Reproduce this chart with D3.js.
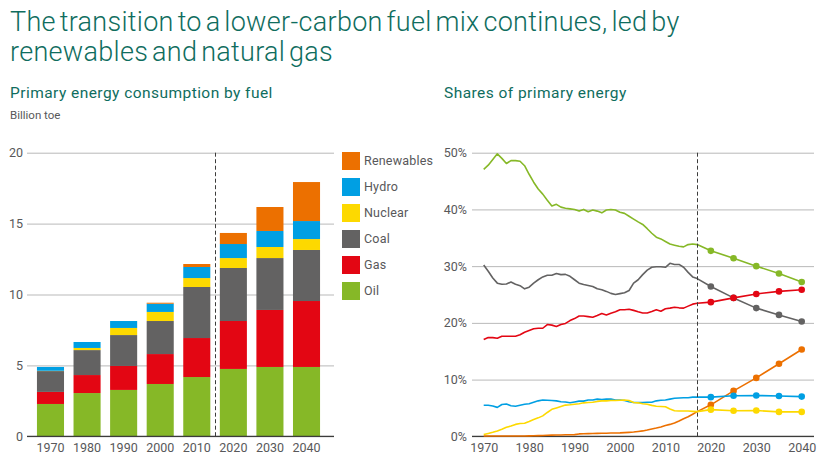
<!DOCTYPE html>
<html>
<head>
<meta charset="utf-8">
<script src="https://d3js.org/d3.v7.min.js"></script>
<style>
    body { margin: 0; background: #fff; }
    text { font-family: Roboto, "Liberation Sans", sans-serif; }
    .domain { display: none; }
</style>
</head>
<body>
<svg id="chart" width="823" height="476"></svg>
<script>
const titleLines = ["The transition to a lower-carbon fuel mix continues, led by", "renewables and natural gas"];

// left chart, billion toe
const decades = [1970, 1980, 1990, 2000, 2010, 2020, 2030, 2040];
const oil = [2.28, 3.05, 3.27, 3.69, 4.18, 4.75, 4.89, 4.89];
const gas = [0.85, 1.27, 1.69, 2.11, 2.75, 3.38, 4.02, 4.65];
const coal = [1.47, 1.76, 2.18, 2.33, 3.6, 3.74, 3.66, 3.6];
const nuclear = [0.02, 0.15, 0.5, 0.64, 0.63, 0.7, 0.78, 0.77];
const hydro = [0.27, 0.42, 0.49, 0.58, 0.78, 0.99, 1.13, 1.27];
const renewables = [0, 0, 0, 0.07, 0.21, 0.78, 1.69, 2.75];
const volumeTicks = [0, 5, 10, 15, 20];

// right chart, shares in %, one value per year 1970-2017
const oilShare = [47.07, 47.8, 48.8, 49.8, 49.0, 48.1, 48.6, 48.6, 48.5, 47.7, 46.2, 44.8, 43.6, 42.7, 41.6, 40.6, 40.9, 40.4, 40.2, 40.1, 40.0, 39.7, 40.0, 39.6, 39.9, 39.7, 39.4, 39.9, 40.0, 39.9, 39.5, 39.3, 38.8, 38.3, 37.8, 37.35, 36.6, 35.8, 35.1, 34.8, 34.35, 33.9, 33.7, 33.5, 33.4, 33.8, 33.9, 33.8];
const coalShare = [30.2, 29.1, 27.9, 27.0, 26.8, 26.85, 27.2, 26.8, 26.55, 26.0, 26.3, 27.0, 27.6, 28.1, 28.4, 28.4, 28.7, 28.5, 28.55, 28.2, 27.6, 27.0, 26.75, 26.6, 26.4, 26.0, 25.85, 25.55, 25.2, 25.0, 25.15, 25.3, 25.7, 27.0, 27.6, 28.5, 29.3, 29.8, 29.9, 29.9, 29.8, 30.5, 30.3, 30.3, 29.8, 28.9, 28.1, 27.8];
const gasShare = [17.05, 17.4, 17.4, 17.3, 17.65, 17.65, 17.65, 17.65, 17.9, 18.35, 18.65, 18.95, 19.05, 19.05, 19.7, 19.6, 19.35, 19.7, 19.9, 20.4, 20.75, 21.2, 21.2, 21.1, 21.0, 21.3, 21.65, 21.4, 21.7, 21.95, 22.3, 22.3, 22.4, 22.2, 21.95, 21.75, 21.75, 22.0, 22.3, 22.05, 22.5, 22.6, 22.75, 22.65, 22.6, 22.95, 23.3, 23.45];
const hydroShare = [5.47, 5.47, 5.35, 5.1, 5.6, 5.7, 5.4, 5.3, 5.47, 5.65, 5.75, 6.0, 6.25, 6.4, 6.35, 6.3, 6.25, 6.1, 6.05, 5.9, 6.05, 6.2, 6.2, 6.4, 6.4, 6.55, 6.5, 6.55, 6.55, 6.4, 6.4, 6.3, 6.1, 5.95, 5.95, 5.95, 6.0, 6.0, 6.25, 6.35, 6.4, 6.55, 6.7, 6.75, 6.8, 6.8, 6.9, 6.9];
const nuclearShare = [0.3, 0.5, 0.7, 0.95, 1.25, 1.6, 1.8, 2.1, 2.25, 2.3, 2.6, 2.95, 3.25, 3.6, 4.2, 4.75, 5.0, 5.25, 5.5, 5.55, 5.65, 5.75, 5.9, 5.95, 6.0, 6.15, 6.25, 6.25, 6.3, 6.3, 6.35, 6.4, 6.3, 5.95, 5.9, 5.75, 5.65, 5.45, 5.3, 5.25, 5.2, 4.8, 4.5, 4.45, 4.45, 4.45, 4.4, 4.35];
const renewablesShare = [0.05, 0.05, 0.05, 0.05, 0.05, 0.05, 0.05, 0.05, 0.05, 0.05, 0.08, 0.1, 0.12, 0.15, 0.18, 0.2, 0.22, 0.24, 0.26, 0.28, 0.3, 0.42, 0.45, 0.47, 0.5, 0.52, 0.53, 0.55, 0.57, 0.58, 0.6, 0.65, 0.7, 0.75, 0.85, 0.95, 1.1, 1.3, 1.45, 1.65, 1.9, 2.1, 2.35, 2.7, 3.1, 3.45, 3.9, 4.35];

// projections, one value per 5 years
const projectionYears = [2020, 2025, 2030, 2035, 2040];
const oilProjection = [32.7, 31.4, 30.0, 28.7, 27.2];
const coalProjection = [26.4, 24.4, 22.6, 21.4, 20.25];
const gasProjection = [23.65, 24.4, 25.1, 25.55, 25.85];
const hydroProjection = [6.9, 7.15, 7.2, 7.1, 7.0];
const nuclearProjection = [4.7, 4.5, 4.55, 4.3, 4.3];
const renewablesProjection = [5.55, 8.0, 10.3, 12.8, 15.3];
const shareTicks = [0, 10, 20, 30, 40, 50];
const yearTicks = [1970, 1980, 1990, 2000, 2010, 2020, 2030, 2040];
const forecastStart = 2017;

const stackNames = ["Oil", "Gas", "Coal", "Nuclear", "Hydro", "Renewables"];
const legendNames = ["Renewables", "Hydro", "Nuclear", "Coal", "Gas", "Oil"];
const fuelColors = ["#86b827", "#e30613", "#636262", "#fdd900", "#009fe3", "#ec7000"];

const green = "#0f6d5e";
const grey = "#58585a";
const grid = "#b9b9b9";

const svg = d3.select("#chart");
const color = d3.scaleOrdinal().domain(stackNames).range(fuelColors);

// headings
svg.selectAll(".title").data(titleLines).enter().append("text")
    .attr("class", "title")
    .attr("x", 10)
    .attr("y", (d, i) => 31 + i * 30)
    .attr("fill", green)
    .style("font-size", "27px")
    .style("font-weight", 300)
    .style("letter-spacing", "0.3px")
    .style("word-spacing", "-3px")
    .text(d => d);

const subtitle = (x, txt) => svg.append("text")
    .attr("x", x).attr("y", 98)
    .attr("fill", green)
    .style("font-size", "15.5px")
    .style("letter-spacing", "0.45px")
    .text(txt);
subtitle(10, "Primary energy consumption by fuel");
subtitle(444, "Shares of primary energy");

svg.append("text")
    .attr("x", 10).attr("y", 119)
    .attr("fill", grey)
    .style("font-size", "11.5px")
    .text("Billion toe");

// left chart: stacked bars
const yBar = d3.scaleLinear().domain([0, 20]).range([436.3, 152.7]);
const xBar = d3.scaleBand().domain(decades).range([32.2, 324.8]).paddingInner(0.26).paddingOuter(0.13);

const barAxis = svg.append("g").attr("transform", "translate(27,0)")
    .call(d3.axisLeft(yBar).tickValues(volumeTicks).tickSize(-307).tickPadding(4));
barAxis.selectAll("line").attr("stroke", grid).attr("stroke-width", 1);
barAxis.selectAll("text").attr("fill", grey).style("font-size", "12.5px");

const stackRows = decades.map((d, i) => ({
    decade: d, Oil: oil[i], Gas: gas[i], Coal: coal[i],
    Nuclear: nuclear[i], Hydro: hydro[i], Renewables: renewables[i]
}));
const layers = d3.stack().keys(stackNames)(stackRows);

svg.selectAll(".layer").data(layers).enter().append("g")
    .attr("class", "layer")
    .attr("fill", d => color(d.key))
    .selectAll("rect").data(d => d).enter().append("rect")
    .attr("x", d => xBar(d.data.decade))
    .attr("width", xBar.bandwidth())
    .attr("y", d => yBar(d[1]))
    .attr("height", d => yBar(d[0]) - yBar(d[1]));

const barXAxis = svg.append("g").attr("transform", "translate(0,436.3)")
    .call(d3.axisBottom(xBar).tickSize(0).tickPadding(7).tickFormat(d3.format("d")));
barXAxis.selectAll("text").attr("fill", grey).style("font-size", "12.5px");

svg.append("line")
    .attr("x1", 27).attr("x2", 334)
    .attr("y1", yBar(0)).attr("y2", yBar(0))
    .attr("stroke", "#3c3c3b").attr("stroke-width", 1.3);

const barDivide = Math.floor((xBar(2010) + xBar.bandwidth() + xBar(2020)) / 2) + 0.5;
svg.append("line")
    .attr("x1", barDivide).attr("x2", barDivide)
    .attr("y1", yBar(20)).attr("y2", yBar(0))
    .attr("stroke", "#3c3c3b").attr("stroke-width", 1)
    .attr("stroke-dasharray", "4,2.5");

// legend
const legend = svg.selectAll(".legend").data(legendNames).enter().append("g")
    .attr("class", "legend")
    .attr("transform", (d, i) => `translate(342,${152 + i * 26})`);
legend.append("rect")
    .attr("width", 18).attr("height", 18)
    .attr("fill", d => color(d));
legend.append("text")
    .attr("x", 22).attr("y", 13)
    .attr("fill", grey)
    .style("font-size", "12.5px")
    .style("letter-spacing", "0.2px")
    .text(d => d);

// right chart: share lines
const yShare = d3.scaleLinear().domain([0, 50]).range([436.3, 152.7]);
const xShare = d3.scaleLinear().domain([1970, 2040]).range([483.7, 801.7]);

const shareAxis = svg.append("g").attr("transform", "translate(472,0)")
    .call(d3.axisLeft(yShare).tickValues(shareTicks).tickSize(-342).tickPadding(5).tickFormat(d => d + "%"));
shareAxis.selectAll("line").attr("stroke", grid).attr("stroke-width", 1);
shareAxis.selectAll("text").attr("fill", grey).style("font-size", "12.5px");

const shareXAxis = svg.append("g").attr("transform", "translate(0,436.3)")
    .call(d3.axisBottom(xShare).tickValues(yearTicks).tickSize(0).tickPadding(7).tickFormat(d3.format("d")));
shareXAxis.selectAll("text").attr("fill", grey).style("font-size", "12.5px");

svg.append("line")
    .attr("x1", 472).attr("x2", 814)
    .attr("y1", yShare(0)).attr("y2", yShare(0))
    .attr("stroke", "#3c3c3b").attr("stroke-width", 1.3);

const shareSeries = [
    { name: "Renewables", history: renewablesShare, projection: renewablesProjection },
    { name: "Hydro", history: hydroShare, projection: hydroProjection },
    { name: "Nuclear", history: nuclearShare, projection: nuclearProjection },
    { name: "Coal", history: coalShare, projection: coalProjection },
    { name: "Gas", history: gasShare, projection: gasProjection },
    { name: "Oil", history: oilShare, projection: oilProjection }
];

const line = d3.line().x(d => xShare(d[0])).y(d => yShare(d[1]));

shareSeries.forEach(s => {
    const past = s.history.map((v, i) => [1970 + i, v]);
    const future = s.projection.map((v, i) => [projectionYears[i], v]);

    svg.append("path")
        .attr("d", line(past.concat(future)))
        .attr("fill", "none")
        .attr("stroke", color(s.name))
        .attr("stroke-width", 1.6)
        .attr("stroke-linejoin", "round");

    svg.selectAll(".dot-" + s.name).data(future).enter().append("circle")
        .attr("class", "dot-" + s.name)
        .attr("cx", d => xShare(d[0]))
        .attr("cy", d => yShare(d[1]))
        .attr("r", 3.3)
        .attr("fill", color(s.name));
});

const shareDivide = Math.floor(xShare(forecastStart)) + 0.5;
svg.append("line")
    .attr("x1", shareDivide).attr("x2", shareDivide)
    .attr("y1", yShare(50)).attr("y2", yShare(0))
    .attr("stroke", "#3c3c3b").attr("stroke-width", 1)
    .attr("stroke-dasharray", "4,2.5");
</script>
</body>
</html>
